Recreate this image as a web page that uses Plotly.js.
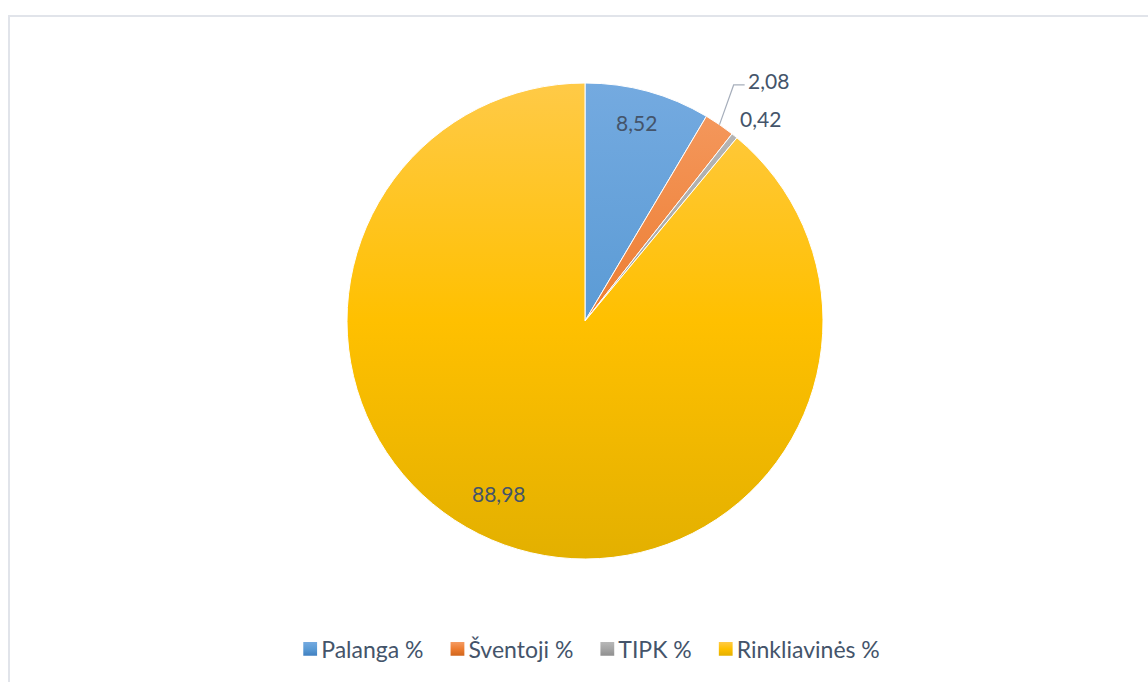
<!DOCTYPE html>
<html>
<head>
<meta charset="utf-8">
<script src="https://cdn.plot.ly/plotly-3.0.1.min.js"></script>
<style>
  html, body { margin: 0; padding: 0; background: #ffffff; }
  #frame { position: absolute; left: 8px; top: 15px; width: 1160px; height: 700px;
           border-left: 2px solid #E1E4EA; border-top: 2px solid #E1E4EA; box-sizing: border-box; }
  #chart { position: absolute; left: 0; top: 0; width: 1148px; height: 682px; }
</style>
</head>
<body>
<div id="frame"></div>
<div id="chart"></div>
<script>
// ---- data ----
const categories = ['Palanga %', 'Šventoji %', 'TIPK %', 'Rinkliavinės %'];
const values = [8.52, 2.08, 0.42, 88.98];
const valueLabels = ['8,52', '2,08', '0,42', '88,98'];

// ---- style ----
const baseColors = ['#5B9BD5', '#ED7D31', '#A5A5A5', '#FFC000'];
const gradTop    = ['#74AAE0', '#F59B62', '#B8B8B8', '#FFCA47'];
const gradBottom = ['#3F7FC0', '#D0651C', '#8F8F8F', '#E3B000'];
const labelRadius = [0.86, 1.27, 1.126, 0.81];
const labelAngleShift = [-0.7, 3.0, 1.9, 6.5];
const leaderLine = [false, true, false, false];
const textColor = '#44546A';
const W = 1148, H = 682;
const CX = 585, CY = 321, R = 238;

// pie domain (pixels -> paper)
const domX = [(CX - R) / W, (CX + R) / W];
const domY = [1 - (CY + R) / H, 1 - (CY - R) / H];

// label positions from the data
const total = values.reduce((a, b) => a + b, 0);
let cum = 0;
const annotations = [];
const shapes = [];
values.forEach((v, i) => {
  const midDeg = (cum + v / 2) / total * 360;
  cum += v;
  const a = (midDeg + labelAngleShift[i]) * Math.PI / 180;
  const px = CX + Math.sin(a) * R * labelRadius[i];
  const py = CY - Math.cos(a) * R * labelRadius[i];
  annotations.push({
    x: px / W, y: 1 - py / H, xref: 'paper', yref: 'paper',
    text: valueLabels[i], showarrow: false,
    xanchor: 'center', yanchor: 'middle',
    font: { family: 'Lato, "Open Sans", sans-serif', size: 21, color: textColor }
  });
  if (leaderLine[i]) {
    const am = midDeg * Math.PI / 180;
    const sx = CX + Math.sin(am) * R, sy = CY - Math.cos(am) * R;
    const ex = px - 35, ey = py + 4;
    const hx = px - 24;
    shapes.push({
      type: 'path', xref: 'paper', yref: 'paper',
      path: `M ${sx / W} ${1 - sy / H} L ${ex / W} ${1 - ey / H} L ${hx / W} ${1 - ey / H}`,
      line: { color: '#A6AEBB', width: 1.2 }
    });
  }
});

const trace = {
  type: 'pie',
  labels: categories,
  values: values,
  sort: false,
  direction: 'clockwise',
  rotation: 0,
  textinfo: 'none',
  hoverinfo: 'label+value',
  marker: { colors: baseColors, line: { color: '#ffffff', width: 1 } },
  domain: { x: domX, y: domY }
};

const layout = {
  width: W, height: H,
  margin: { l: 0, r: 0, t: 0, b: 0 },
  paper_bgcolor: 'rgba(0,0,0,0)',
  plot_bgcolor: 'rgba(0,0,0,0)',
  showlegend: true,
  legend: {
    orientation: 'h', x: 0.508, xanchor: 'center', y: 1 - 649 / H, yanchor: 'middle',
    font: { family: 'Lato, "Open Sans", sans-serif', size: 23, color: textColor },
    itemwidth: 30, itemgap: 0, traceorder: 'normal'
  },
  annotations: annotations,
  shapes: shapes
};

Plotly.newPlot('chart', [trace], layout, { displayModeBar: false, staticPlot: true }).then(gd => {
  const svg = gd.querySelector('.main-svg');
  const NS = 'http://www.w3.org/2000/svg';
  const defs = document.createElementNS(NS, 'defs');
  svg.insertBefore(defs, svg.firstChild);
  const paths = gd.querySelectorAll('.pielayer .slice path.surface');
  let bigIdx = values.indexOf(Math.max(...values));
  let y1 = 0, y2 = 1;
  if (paths[bigIdx]) { const bb = paths[bigIdx].getBBox(); y1 = bb.y; y2 = bb.y + bb.height; }
  function mkGrad(id, i, userSpace) {
    const g = document.createElementNS(NS, 'linearGradient');
    g.setAttribute('id', id);
    g.setAttribute('x1', 0); g.setAttribute('x2', 0);
    if (userSpace) {
      g.setAttribute('gradientUnits', 'userSpaceOnUse');
      g.setAttribute('y1', y1); g.setAttribute('y2', y2);
    } else {
      g.setAttribute('y1', 0); g.setAttribute('y2', 1);
    }
    [[0, gradTop[i]], [0.5, baseColors[i]], [1, gradBottom[i]]].forEach(([o, c]) => {
      const s = document.createElementNS(NS, 'stop');
      s.setAttribute('offset', o); s.setAttribute('stop-color', c);
      g.appendChild(s);
    });
    defs.appendChild(g);
  }
  paths.forEach((p, i) => {
    mkGrad('sg' + i, i, true);
    p.style.fill = 'url(#sg' + i + ')';
  });
  const lgs = gd.querySelectorAll('.legend .traces .legendpoints');
  lgs.forEach((g, i) => {
    g.setAttribute('transform', 'translate(9,0)');
    const p = g.querySelector('path');
    if (p) {
      mkGrad('lg' + i, i, false);
      p.style.fill = 'url(#lg' + i + ')';
      p.style.strokeWidth = '0';
      const t = p.getAttribute('transform') || '';
      p.setAttribute('transform', t + ' scale(1.15)');
    }
  });
});
</script>
</body>
</html>
